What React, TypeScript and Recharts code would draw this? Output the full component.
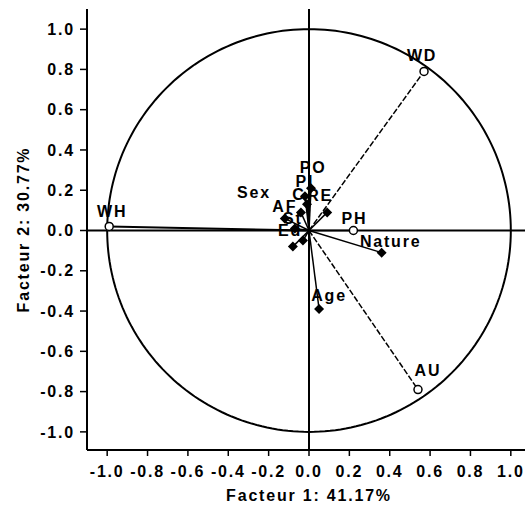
import {
  ScatterChart,
  Scatter,
  XAxis,
  YAxis,
  ReferenceLine,
} from 'recharts'

// variables drawn as open circles (loadings on factor 1 / factor 2)
const variableNames = ['WD', 'WH', 'PH', 'AU']
const variableF1 = [0.57, -0.99, 0.22, 0.54]
const variableF2 = [0.79, 0.02, 0.0, -0.79]

// supplementary variables drawn as filled diamonds
const factorNames = ['PO', 'PI', 'C', 'RE', 'Sex', 'AF', 'St', 'Ed', '', 'Nature', 'Age']
const factorF1 = [0.01, -0.02, -0.01, 0.09, -0.04, -0.12, -0.07, -0.03, -0.08, 0.36, 0.05]
const factorF2 = [0.21, 0.17, 0.13, 0.09, 0.09, 0.06, 0.01, -0.05, -0.08, -0.11, -0.39]

const dashedVariables = ['WD', 'AU']

const xTicks = [-1.0, -0.8, -0.6, -0.4, -0.2, 0.0, 0.2, 0.4, 0.6, 0.8, 1.0]
const yTicks = [-1.0, -0.8, -0.6, -0.4, -0.2, 0.0, 0.2, 0.4, 0.6, 0.8, 1.0]

const xTitle = 'Facteur 1: 41.17%'
const yTitle = 'Facteur 2: 30.77%'

// label placement relative to the marker (styling only)
const labelOffset: Record<string, [number, number, string?]> = {
  WD: [-2, -10],
  WH: [3, -9],
  PH: [1, -7],
  AU: [10, -14],
  Nature: [9, -6],
  Age: [10, -8],
  PO: [2, -15],
  PI: [0, -9],
  C: [-8, -4],
  RE: [-7, -11],
  Sex: [-47, -14],
  AF: [0, -6],
  St: [-2, -4],
  Ed: [-13, -5],
}

// unit circle of the correlation plot
const circlePoints = Array.from({ length: 241 }, (_, i) => {
  const a = (i / 240) * Math.PI * 2
  return { x: Math.cos(a), y: Math.sin(a) }
})

const variables = variableNames.map((name, i) => ({ name, x: variableF1[i], y: variableF2[i] }))
const factors = factorNames.map((name, i) => ({ name, x: factorF1[i], y: factorF2[i] }))

const FONT = '"Liberation Sans", Arial, Helvetica, sans-serif'

function PointLabel({ cx, cy, name }: { cx: number; cy: number; name: string }) {
  if (!name) return null
  const [dx, dy] = labelOffset[name] || [0, -8]
  return (
    <text x={cx + dx} y={cy + dy} textAnchor="middle" fontSize={16} fill="#000">
      {name}
    </text>
  )
}

function OpenCircle(props: any) {
  const { cx, cy, payload } = props
  return (
    <g>
      <circle cx={cx} cy={cy} r={4} fill="#fff" stroke="#000" strokeWidth={1.5} />
      <PointLabel cx={cx} cy={cy} name={payload.name} />
    </g>
  )
}

function Diamond(props: any) {
  const { cx, cy, payload } = props
  const s = 5
  return (
    <g>
      <path d={`M${cx},${cy - s}L${cx + s},${cy}L${cx},${cy + s}L${cx - s},${cy}Z`} fill="#000" />
      <PointLabel cx={cx} cy={cy} name={payload.name} />
    </g>
  )
}

export default function App() {
  return (
    <div
      style={{
        position: 'absolute',
        left: 0,
        top: 0,
        width: 525,
        height: 520,
        overflow: 'hidden',
        background: '#fff',
        fontFamily: FONT,
        fontWeight: 'bold',
        letterSpacing: '1.8px',
      }}
    >
      <ScatterChart width={531} height={520} margin={{ top: 9, right: 0, bottom: 20, left: 0 }}>
        <XAxis
          type="number"
          dataKey="x"
          domain={[-1.1, 1.1]}
          ticks={xTicks}
          tickFormatter={(v: number) => v.toFixed(1)}
          axisLine={{ stroke: '#000', strokeWidth: 2 }}
          tickLine={{ stroke: '#000', strokeWidth: 1.5 }}
          tickSize={6}
          tickMargin={10}
          tick={{ fontSize: 16, fill: '#000' }}
          height={50}
          allowDataOverflow
          label={({ viewBox }: any) => (
            <text
              x={viewBox.x + viewBox.width / 2}
              y={501}
              textAnchor="middle"
              fontSize={16}
              fill="#000"
            >
              {xTitle}
            </text>
          )}
        />
        <YAxis
          type="number"
          dataKey="y"
          domain={[-1.09, 1.1]}
          ticks={yTicks}
          tickFormatter={(v: number) => v.toFixed(1)}
          axisLine={{ stroke: '#000', strokeWidth: 2 }}
          tickLine={{ stroke: '#000', strokeWidth: 1.5 }}
          tickSize={7}
          tickMargin={5}
          tick={{ fontSize: 16, fill: '#000' }}
          width={87}
          allowDataOverflow
          label={({ viewBox }: any) => {
            const cy = viewBox.y + viewBox.height / 2
            return (
              <text
                x={29}
                y={cy}
                transform={`rotate(-90, 29, ${cy})`}
                textAnchor="middle"
                fontSize={16}
                fill="#000"
              >
                {yTitle}
              </text>
            )
          }}
        />
        <ReferenceLine x={0} stroke="#000" strokeWidth={2} />
        <ReferenceLine y={0} stroke="#000" strokeWidth={2} />
        {factors.map((p, i) => (
          <ReferenceLine
            key={'f' + i}
            segment={[{ x: 0, y: 0 }, { x: p.x, y: p.y }]}
            stroke="#000"
            strokeWidth={1.5}
          />
        ))}
        {variables.map((p) => (
          <ReferenceLine
            key={p.name}
            segment={[{ x: 0, y: 0 }, { x: p.x, y: p.y }]}
            stroke="#000"
            strokeWidth={p.name === 'WH' ? 2 : 1.5}
            strokeDasharray={dashedVariables.includes(p.name) ? '6 2' : undefined}
          />
        ))}
        <Scatter
          data={circlePoints}
          line={{ stroke: '#000', strokeWidth: 2 }}
          lineType="joint"
          shape={() => <g />}
          isAnimationActive={false}
        />
        <Scatter data={factors} shape={Diamond} isAnimationActive={false} />
        <Scatter data={variables} shape={OpenCircle} isAnimationActive={false} />
      </ScatterChart>
    </div>
  )
}
